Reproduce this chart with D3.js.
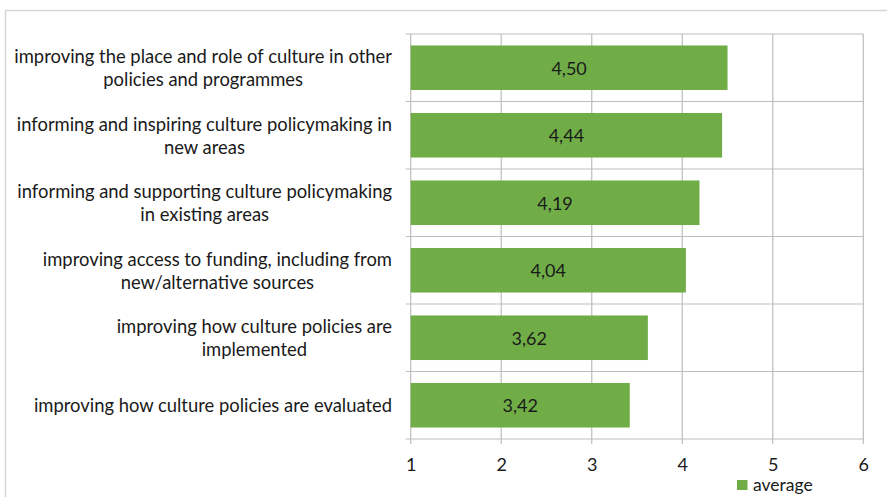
<!DOCTYPE html>
<html>
<head>
<meta charset="utf-8">
<script src="https://cdn.jsdelivr.net/npm/d3@7"></script>
<style>
  html, body { margin: 0; padding: 0; background: #fff; }
  svg { display: block; }
  text { font-family: Lato, "Open Sans", sans-serif; fill: #1a1a1a; }
</style>
</head>
<body>
<svg id="chart" width="887" height="497"></svg>
<script>
// Categories, each split into the lines shown beside its bar
const categories = [
  ["improving the place and role of culture in other", "policies and programmes"],
  ["informing and inspiring culture policymaking in", "new areas"],
  ["informing and supporting culture policymaking", "in existing areas"],
  ["improving access to funding, including from", "new/alternative sources"],
  ["improving how culture policies are", "implemented"],
  ["improving how culture policies are evaluated"]
];
const averages = [4.50, 4.44, 4.19, 4.04, 3.62, 3.42];
const xTicks = [1, 2, 3, 4, 5, 6];
const seriesName = "average";

const W = 887, H = 497;
const plot = { left: 410.7, right: 863.3, top: 34, bottom: 439 };
const green = "#70ad47";
const gridColor = "#bdbdbd";

const svg = d3.select("#chart");

// Outer chart frame
svg.append("path")
  .attr("d", `M5.5,${H} V10.5 H${W}`)
  .attr("fill", "none").attr("stroke", "#d6d6d6").attr("stroke-width", 1.5);

const x = d3.scaleLinear().domain([1, 6]).range([plot.left, plot.right]);
const y = d3.scaleBand().domain(d3.range(categories.length))
  .range([plot.top, plot.bottom]).paddingInner(0.34).paddingOuter(0.17);
const band = (plot.bottom - plot.top) / categories.length;

// Vertical gridlines
svg.append("g").selectAll("line").data(xTicks).join("line")
  .attr("x1", d => x(d)).attr("x2", d => x(d))
  .attr("y1", plot.top).attr("y2", plot.bottom + 5)
  .attr("stroke", gridColor).attr("stroke-width", 1.2);

// Horizontal gridlines at category boundaries
svg.append("g").selectAll("line").data(d3.range(categories.length + 1)).join("line")
  .attr("x1", plot.left - 5).attr("x2", plot.right)
  .attr("y1", i => plot.top + i * band).attr("y2", i => plot.top + i * band)
  .attr("stroke", gridColor).attr("stroke-width", 1.2);

// Bars
svg.append("g").selectAll("rect").data(averages).join("rect")
  .attr("x", x(1))
  .attr("y", (d, i) => y(i))
  .attr("width", d => x(d) - x(1))
  .attr("height", y.bandwidth())
  .attr("fill", green);

// Value labels inside bars
svg.append("g").selectAll("text").data(averages).join("text")
  .attr("x", d => (x(1) + x(d)) / 2)
  .attr("y", (d, i) => y(i) + y.bandwidth() / 2)
  .attr("text-anchor", "middle").attr("dominant-baseline", "central")
  .attr("font-size", 18)
  .text(d => d.toFixed(2).replace(".", ","));

// X axis tick labels
const xAxis = d3.axisBottom(x).tickValues(xTicks).tickSize(0).tickPadding(0)
  .tickFormat(d3.format("d"));
const gx = svg.append("g").attr("transform", `translate(0,${plot.bottom})`).call(xAxis);
gx.select(".domain").remove();
gx.selectAll("text")
  .attr("y", 25).attr("dy", null).attr("dominant-baseline", "central")
  .attr("font-size", 18).attr("fill", "#1a1a1a")
  .attr("font-family", "Lato, 'Open Sans', sans-serif");

// Category labels: lines centred within a block right-aligned to the axis
const labelRight = 392;
const lineGap = 23;
categories.forEach((lines, i) => {
  const cy = plot.top + (i + 0.5) * band;
  const g = svg.append("g");
  const texts = lines.map((ln, k) => g.append("text")
    .attr("font-size", 18.4)
    .attr("text-anchor", "middle")
    .attr("dominant-baseline", "central")
    .attr("y", cy + (k - (lines.length - 1) / 2) * lineGap)
    .text(ln));
  const widths = texts.map(t => t.node().getComputedTextLength());
  const blockW = d3.max(widths);
  texts.forEach(t => t.attr("x", labelRight - blockW / 2));
});

// Legend
const legend = svg.append("g").attr("transform", "translate(737,480)");
legend.append("rect").attr("width", 10.5).attr("height", 10).attr("fill", green);
legend.append("text").attr("x", 16).attr("y", 4.5)
  .attr("dominant-baseline", "central").attr("font-size", 17.5)
  .text(seriesName);
</script>
</body>
</html>
